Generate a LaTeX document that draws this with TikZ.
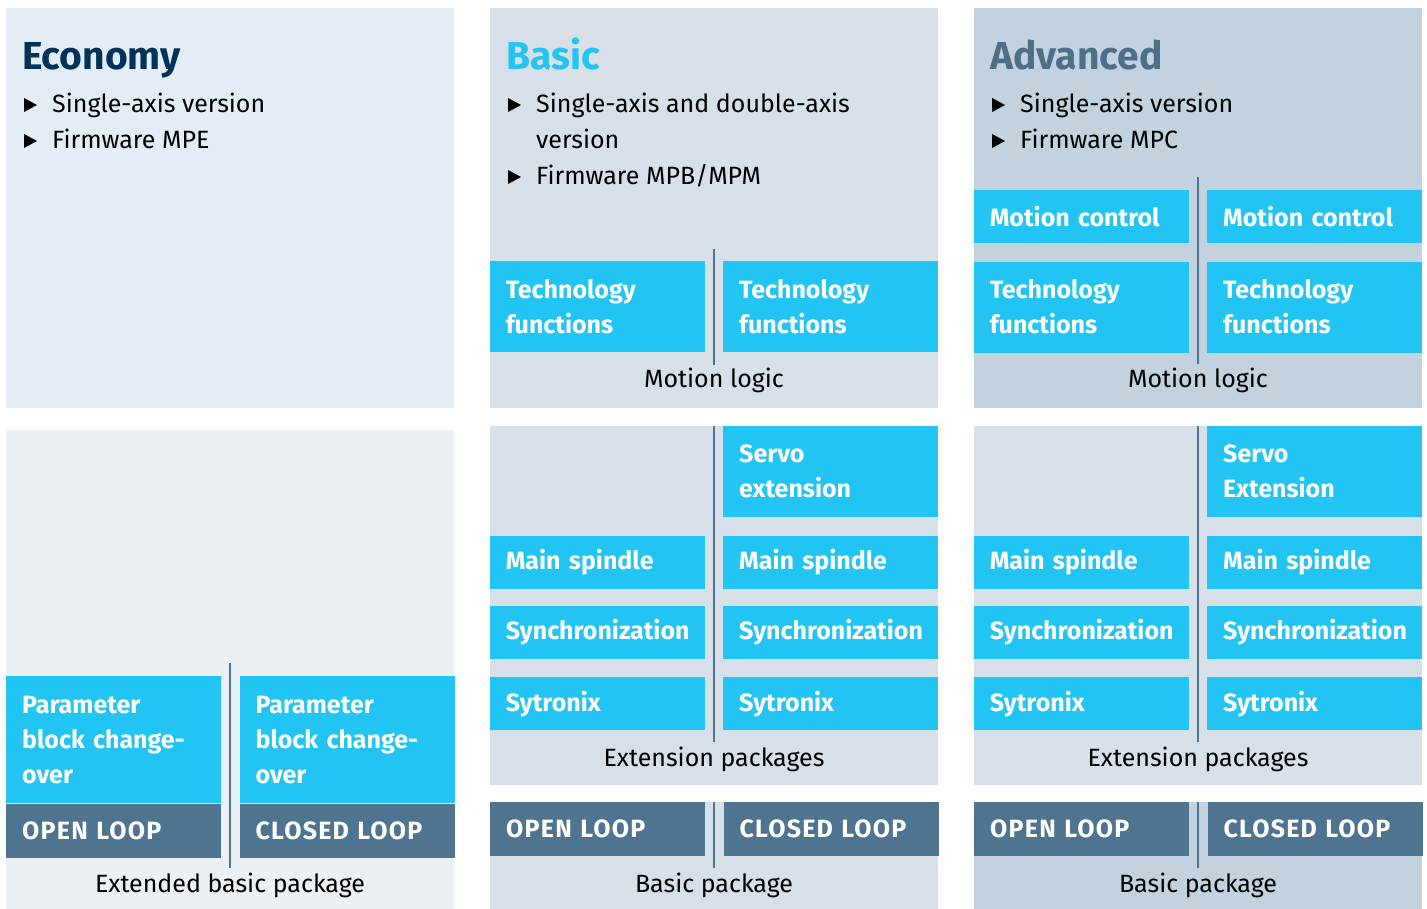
\documentclass[tikz,border=0pt]{standalone}
\usepackage{fontspec}
\setmainfont{Fira Sans}
\usetikzlibrary{positioning}
\usepackage{xcolor}
\definecolor{boxCyan}{HTML}{22C4F3}
\definecolor{loopBlue}{HTML}{4E7490}
\definecolor{ecoTop}{HTML}{E4EDF5}
\definecolor{ecoBottom}{HTML}{EBF0F5}
\definecolor{basicPanel}{HTML}{D7DFE9}
\definecolor{advPanel}{HTML}{C2D2DF}
\definecolor{ecoTitle}{HTML}{00325A}
\definecolor{advTitle}{HTML}{4E6E8A}
\newcommand\tilefont{\fontsize{25}{35}\selectfont\bfseries}
\newcommand\loopfont{\fontsize{25}{35}\selectfont\bfseries\addfontfeatures{LetterSpace=5}}
\newcommand\txtfont{\fontsize{25}{36}\selectfont}
\newcommand\hdfont{\fontsize{39}{40}\selectfont\bfseries}
\lefthyphenmin=62

\begin{document}
\begin{tikzpicture}[
        x=1pt, y=-1pt,
        node distance=18pt and 18pt,
        panel/.style={anchor=north west, inner sep=0pt, minimum width=448pt}, % background of a package
        tile/.style={fill=boxCyan, text=white, font=\tilefont, anchor=north west, inner xsep=16pt, inner ysep=0pt, text width=183pt, align=left},
        looptile/.style={tile, fill=loopBlue, font=\loopfont, minimum height=54pt},
        title/.style={anchor=base west, inner sep=0pt, font=\hdfont},
        item/.style={anchor=base west, inner sep=0pt, font=\txtfont},
        caption/.style={anchor=base, inner sep=0pt, font=\txtfont},
        divider/.style={loopBlue, line width=1.5pt},
        tri/.pic={\fill (0,-7) -- (13,0) -- (0,7) -- cycle;}
    ]
    \useasboundingbox (0,0) rectangle (1427,909);

    % Economy
    \node[panel, fill=ecoTop, minimum height=400pt] (ecoTop) at (6,8) {};
    \node[title, text=ecoTitle] (ecoTitle) at (22,70) {Economy};
    \pic at (24,105) {tri};
    \node[item] (ecoItemA) at (52,113) {Single-axis version};
    \pic at (24,141) {tri};
    \node[item] (ecoItemB) at (52,149) {Firmware MPE};

    \node[panel, fill=ecoBottom, minimum height=479pt] (ecoBottom) at (6,430) {};
    \node[tile, minimum height=127pt] (ecoParamL) at (6,676) {Parameter\\block change-\\over};
    \node[tile, minimum height=127pt, right=of ecoParamL] (ecoParamR) {Parameter\\block change-\\over};
    \node[looptile, below=0pt of ecoParamL] (ecoOpen) {OPEN LOOP};
    \node[looptile, below=0pt of ecoParamR] (ecoClosed) {CLOSED LOOP};
    \draw[divider] (230,663) -- (230,868);
    \node[caption] (ecoCaption) at (230,892) {Extended basic package};

    % Basic
    \node[panel, fill=basicPanel, minimum height=400pt] (basicTop) at (490,8) {};
    \node[title, text=boxCyan] (basicTitle) at (506,70) {Basic};
    \pic at (508,105) {tri};
    \node[item] (basicItemA) at (536,113) {Single-axis and double-axis};
    \node[item] (basicItemA2) at (536,149) {version};
    \pic at (508,177) {tri};
    \node[item] (basicItemB) at (536,185) {Firmware MPB/MPM};
    \node[tile, minimum height=91pt] (basicTechR) at (723,261) {Technology\\functions};
    \node[tile, minimum height=91pt, left=of basicTechR] (basicTechL) {Technology\\functions};
    \draw[divider] (714,249) -- (714,365);
    \node[caption] (basicLogic) at (714,387) {Motion logic};

    \node[panel, fill=basicPanel, minimum height=359pt] (basicExt) at (490,426) {};
    \node[tile, minimum height=91pt] (basicServo) at (723,426) {Servo\\extension};
    \node[tile, minimum height=53pt, below=of basicServo] (basicSpindleR) {Main spindle};
    \node[tile, minimum height=53pt, below=17pt of basicSpindleR] (basicSyncR) {Synchronization};
    \node[tile, minimum height=53pt, below=of basicSyncR] (basicSytR) {Sytronix};
    \node[tile, minimum height=53pt, left=of basicSpindleR] (basicSpindleL) {Main spindle};
    \node[tile, minimum height=53pt, left=of basicSyncR] (basicSyncL) {Synchronization};
    \node[tile, minimum height=53pt, left=of basicSytR] (basicSytL) {Sytronix};
    \draw[divider] (714,426) -- (714,742);
    \node[caption] (basicExtCaption) at (714,766) {Extension packages};

    \node[panel, fill=basicPanel, minimum height=107pt] (basicPkg) at (490,802) {};
    \node[looptile] (basicOpen) at (490,802) {OPEN LOOP};
    \node[looptile, right=of basicOpen] (basicClosed) {CLOSED LOOP};
    \draw[divider] (714,802) -- (714,868);
    \node[caption] (basicPkgCaption) at (714,892) {Basic package};

    % Advanced
    \node[panel, fill=advPanel, minimum height=400pt] (advTop) at (974,8) {};
    \node[title, text=advTitle] (advTitle) at (990,70) {Advanced};
    \pic at (992,105) {tri};
    \node[item] (advItemA) at (1020,113) {Single-axis version};
    \pic at (992,141) {tri};
    \node[item] (advItemB) at (1020,149) {Firmware MPC};
    \node[tile, minimum height=53pt] (advMotionR) at (1207,190) {Motion control};
    \node[tile, minimum height=91pt, below=of advMotionR] (advTechR) {Technology\\functions};
    \node[tile, minimum height=53pt, left=of advMotionR] (advMotionL) {Motion control};
    \node[tile, minimum height=91pt, left=of advTechR] (advTechL) {Technology\\functions};
    \draw[divider] (1198,177) -- (1198,364);
    \node[caption] (advLogic) at (1198,387) {Motion logic};

    \node[panel, fill=basicPanel, minimum height=359pt] (advExt) at (974,426) {};
    \node[tile, minimum height=91pt] (advServo) at (1207,426) {Servo\\Extension};
    \node[tile, minimum height=53pt, below=of advServo] (advSpindleR) {Main spindle};
    \node[tile, minimum height=53pt, below=17pt of advSpindleR] (advSyncR) {Synchronization};
    \node[tile, minimum height=53pt, below=of advSyncR] (advSytR) {Sytronix};
    \node[tile, minimum height=53pt, left=of advSpindleR] (advSpindleL) {Main spindle};
    \node[tile, minimum height=53pt, left=of advSyncR] (advSyncL) {Synchronization};
    \node[tile, minimum height=53pt, left=of advSytR] (advSytL) {Sytronix};
    \draw[divider] (1198,426) -- (1198,742);
    \node[caption] (advExtCaption) at (1198,766) {Extension packages};

    \node[panel, fill=advPanel, minimum height=107pt] (advPkg) at (974,802) {};
    \node[looptile] (advOpen) at (974,802) {OPEN LOOP};
    \node[looptile, right=of advOpen] (advClosed) {CLOSED LOOP};
    \draw[divider] (1198,802) -- (1198,868);
    \node[caption] (advPkgCaption) at (1198,892) {Basic package};
\end{tikzpicture}
\end{document}
